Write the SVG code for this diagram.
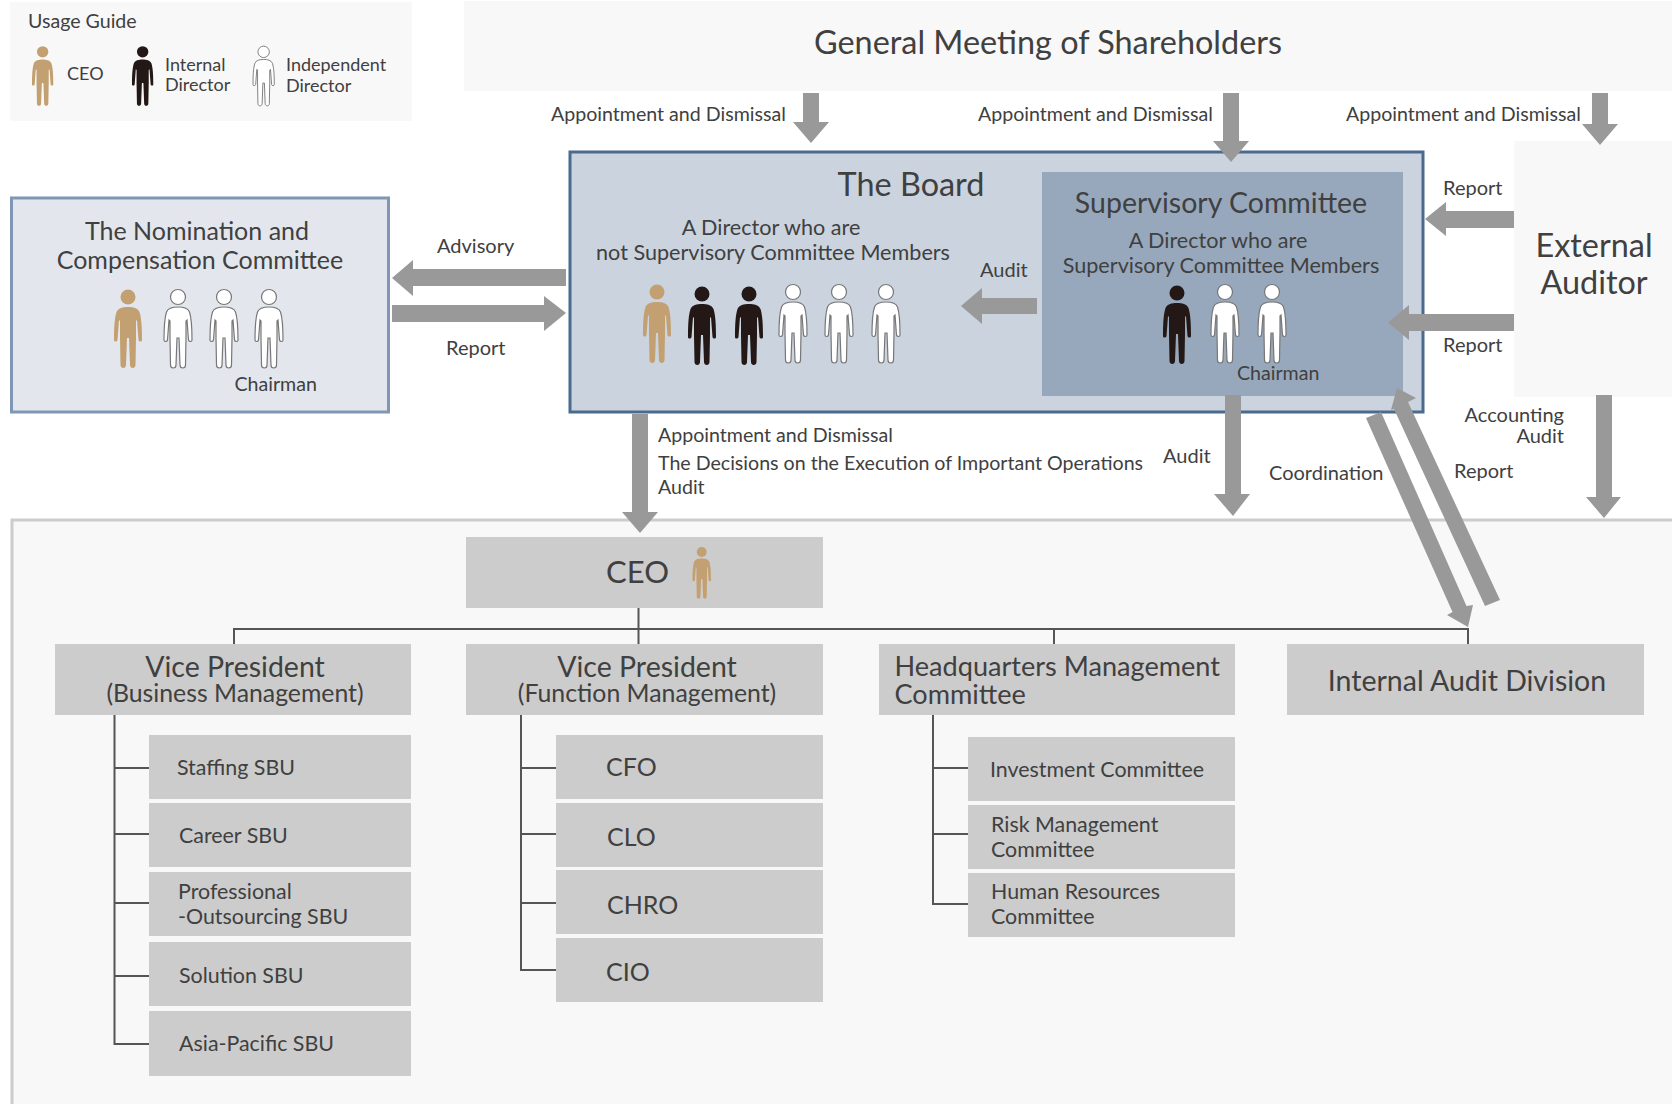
<svg xmlns="http://www.w3.org/2000/svg" width="1672" height="1104" viewBox="0 0 1672 1104">
<style>
text{font-family:Lato,"Noto Sans","Liberation Sans",sans-serif;fill:#404040}
.m{text-anchor:middle}.e{text-anchor:end}
.b{fill:#ccc}.p{fill:#f8f8f8}
.arr{fill:#999}
.ln{stroke:#555;stroke-width:2;fill:none}
.tan{fill:#c3a071}.blk{fill:#231815}.wht{fill:#fff;stroke:#777;stroke-width:1.2}
.f18{font-size:18px}.f20{font-size:20px}.f196{font-size:19.6px}.f21{font-size:21.4px}.f216{font-size:21.6px}.f25{font-size:25px}.f285{font-size:28.5px}.f32{font-size:32.400px}
</style>
<defs>
<g id="person">
<circle cx="14" cy="9" r="7.5"/>
<path d="M14 19C19 19 24 20 25.5 24C27.5 30 28 40 28 52C28 54 25 54 24.5 52L23 32L22 33V50L21.5 77C21.5 81 16 81 16 77L15 50H13L12 77C12 81 6.5 81 6.5 77L6 50V33L5 32L3.500 52C3 54 0 54 0 52C0 40 .5 30 2.5 24C4 20 9 19 14 19Z"/>
</g>
</defs>
<rect width="1672" height="1104" fill="#fff"/>
<g id="lower-area"><rect x="12" y="520" width="1670" height="594" class="p" stroke="#ccc" stroke-width="3"/></g>

<g id="usage-guide">
<rect class="p" x="10" y="2" width="402" height="119"/>
<text font-size="19.6" x="28" y="28">Usage Guide</text>
<use href="#person" class="tan" transform="translate(32 45) scale(.76)"/>
<text class="f18" x="67" y="80">CEO</text>
<use href="#person" class="blk" transform="translate(132 45) scale(.76)"/>
<text class="f18" x="165" y="71">Internal</text><text class="f18" x="165" y="91">Director</text>
<use href="#person" class="wht" transform="translate(253 45) scale(.76)"/>
<text class="f18" x="286" y="71">Independent</text><text class="f18" x="286" y="92">Director</text>
</g>

<g id="shareholders"><rect class="p" x="464" y="1" width="1208" height="90"/>
<text class="m f32" x="1048" y="54">General Meeting of Shareholders</text></g>

<g id="nomination"><rect x="11.500" y="198" width="377" height="214" fill="#e3e7ed" stroke="#7f97b5" stroke-width="3"/>
<text class="m f25" x="197" y="240">The Nomination and</text>
<text class="m f25" x="200" y="269">Compensation Committee</text>
<use href="#person" class="tan" transform="translate(114 288)"/>
<use href="#person" class="wht" transform="translate(164 288)"/>
<use href="#person" class="wht" transform="translate(210 288)"/>
<use href="#person" class="wht" transform="translate(255 288)"/>
<text class="f196" x="234.500" y="391">Chairman</text></g>

<g id="board"><rect x="570" y="152" width="853" height="260" fill="#cad3de" stroke="#4a6a8f" stroke-width="3"/>
<text class="m f32" x="911" y="196">The Board</text>
<text class="m f216" x="771" y="235">A Director who are</text>
<text class="m f216" x="773" y="260">not Supervisory Committee Members</text>
<use href="#person" class="tan" transform="translate(643 283)"/>
<use href="#person" class="blk" transform="translate(688 285)"/>
<use href="#person" class="blk" transform="translate(735 285)"/>
<use href="#person" class="wht" transform="translate(779 283)"/>
<use href="#person" class="wht" transform="translate(825 283)"/>
<use href="#person" class="wht" transform="translate(872 283)"/>
<text class="f20" x="980" y="277">Audit</text></g>

<g id="supervisory"><rect x="1042" y="172" width="361" height="224" fill="#97a8bc"/>
<text class="m f285" x="1221" y="213">Supervisory Committee</text>
<text class="m f216" x="1218" y="248">A Director who are</text>
<text class="m f216" x="1221" y="273">Supervisory Committee Members</text>
<use href="#person" class="blk" transform="translate(1163 284)"/>
<use href="#person" class="wht" transform="translate(1211 283)"/>
<use href="#person" class="wht" transform="translate(1258 283)"/>
<text class="f196" x="1237" y="380">Chairman</text></g>

<g id="external-auditor"><rect class="p" x="1514" y="141" width="158" height="256"/>
<text class="m f32" x="1594" y="257">External</text><text class="m f32" x="1594" y="294">Auditor</text></g>

<g id="ceo"><rect class="b" x="466" y="537" width="357" height="71"/>
<text font-size="31" x="606" y="583">CEO</text>
<use href="#person" class="tan" transform="translate(692.500 546) scale(.66)"/></g>

<g id="vp-business"><rect class="b" x="55" y="644" width="356" height="71"/>
<text class="m f285" x="235" y="677">Vice President</text><text class="m" font-size="24.800" x="235" y="702">(Business Management)</text></g>
<g id="vp-function"><rect class="b" x="466" y="644" width="357" height="71"/>
<text class="m f285" x="647" y="677">Vice President</text><text class="m" font-size="24.800" x="647" y="702">(Function Management)</text></g>
<g id="hq"><rect class="b" x="879" y="644" width="356" height="71"/>
<text font-size="27.100" x="894.500" y="676">Headquarters Management</text><text font-size="27.100" x="894.500" y="704">Committee</text></g>
<g id="internal-audit"><rect class="b" x="1287" y="644" width="357" height="71"/>
<text class="m f285" x="1467" y="691">Internal Audit Division</text></g>

<g id="sbu-staffing"><rect class="b" x="149" y="735" width="262" height="64"/><text class="f21" x="177" y="775">Staffing SBU</text></g>
<g id="sbu-career"><rect class="b" x="149" y="803" width="262" height="64"/><text class="f21" x="179" y="843">Career SBU</text></g>
<g id="sbu-prof"><rect class="b" x="149" y="872" width="262" height="64"/><text class="f21" x="178" y="899">Professional</text><text class="f21" x="178" y="924">-Outsourcing SBU</text></g>
<g id="sbu-solution"><rect class="b" x="149" y="942" width="262" height="64"/><text class="f21" x="179" y="983">Solution SBU</text></g>
<g id="sbu-asia"><rect class="b" x="149" y="1011" width="262" height="65"/><text class="f21" x="179" y="1051">Asia-Pacific SBU</text></g>

<g id="cfo"><rect class="b" x="556" y="735" width="267" height="64"/><text class="f25" x="606" y="776">CFO</text></g>
<g id="clo"><rect class="b" x="556" y="803" width="267" height="64"/><text class="f25" x="607" y="846">CLO</text></g>
<g id="chro"><rect class="b" x="556" y="870" width="267" height="64"/><text class="f25" x="607" y="914">CHRO</text></g>
<g id="cio"><rect class="b" x="556" y="938" width="267" height="64"/><text class="f25" x="606" y="981">CIO</text></g>

<g id="investment"><rect class="b" x="968" y="737" width="267" height="64"/><text class="f21" x="990" y="777">Investment Committee</text></g>
<g id="risk"><rect class="b" x="968" y="805" width="267" height="64"/><text class="f21" x="991" y="832">Risk Management</text><text class="f21" x="991" y="857">Committee</text></g>
<g id="hr"><rect class="b" x="968" y="873" width="267" height="64"/><text class="f21" x="991" y="899">Human Resources</text><text class="f21" x="991" y="924">Committee</text></g>

<g id="connectors">
<path class="ln" d="M234 644V629H1468V644M638.500 608V644M1054 629V644"/>
<path class="ln" d="M114.500 715V1044H149M114.500 768H149M114.500 834H149M114.500 903H149M114.500 976H149"/>
<path class="ln" d="M521 715V970H556M521 768H556M521 834H556M521 903H556"/>
<path class="ln" d="M933 715V904H968M933 768H968M933 834H968"/>
<g class="arr">
<path d="M803 93H819V122H829L811 143L793 122H803Z"/>
<path d="M1223 93H1239V141H1249L1231 162L1213 141H1223Z"/>
<path d="M1592 93H1608V124H1618L1600 145L1582 124H1592Z"/>
<path d="M1514 211V228H1446V236L1425 219L1446 202V211Z"/>
<path d="M1514 314V331H1409V340L1388 322.500L1409 305V314Z"/>
<path d="M1037 298V314H982V324L961 306L982 288V298Z"/>
<path d="M566 269V286H413V296L392 278L413 260V269Z"/>
<path d="M392 305H544V296L566 313L544 331V322H392Z"/>
<path d="M632 414H648V512H658L640 533L622 512H632Z"/>
<path d="M1225 395H1241V494H1250L1233 516L1214 494H1225Z"/>
<path d="M1596 395H1612V497H1621L1604 518L1586 497H1596Z"/>
<path d="M1366 418L1381 412L1466.500 606L1473 605L1468 627L1447 615L1452.500 612Z"/>
<path d="M1485 606L1500 600L1408 402L1416 398L1397 388L1391 410L1394 409Z"/>
</g>
</g>

<g id="connector-labels">
<text class="f196" x="551" y="121">Appointment and Dismissal</text>
<text class="f196" x="978" y="121">Appointment and Dismissal</text>
<text class="f196" x="1346" y="121">Appointment and Dismissal</text>
<text class="f20" x="1443" y="195">Report</text>
<text class="f20" x="1443" y="352">Report</text>
<text class="f20" x="437" y="253">Advisory</text>
<text class="f20" x="446" y="355">Report</text>
<text class="f196" x="658" y="442">Appointment and Dismissal</text>
<text class="f196" x="658" y="470">The Decisions on the Execution of Important Operations</text>
<text class="f196" x="658" y="494">Audit</text>
<text class="f20" x="1163" y="463">Audit</text>
<text class="f20" x="1269" y="480">Coordination</text>
<text class="f20" x="1454" y="478">Report</text>
<text class="f20 e" x="1564" y="422">Accounting</text>
<text class="f20 e" x="1564" y="443">Audit</text>
</g>
</svg>
